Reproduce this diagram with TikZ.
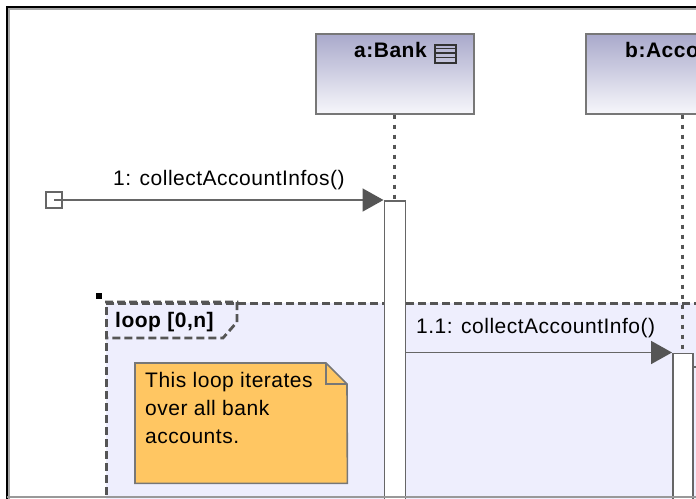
\documentclass[tikz,border=0pt]{standalone}
\usepackage{fontspec}
\setmainfont{Liberation Sans}[LetterSpace=2.4]
\usetikzlibrary{arrows.meta}
\definecolor{lavfill}{HTML}{EEEEFD}
\definecolor{notefill}{HTML}{FFC662}
\definecolor{boxgray}{HTML}{777777}
\definecolor{msggray}{HTML}{666666}
\definecolor{darkgray}{HTML}{555555}
\definecolor{boxtop}{HTML}{A9A9CB}
\definecolor{boxbot}{HTML}{F7F7FB}
\tikzset{
  lifebox/.style={draw=boxgray, line width=1.6pt, top color=boxtop, bottom color=boxbot,
    inner sep=0pt, anchor=north west},
  actbar/.style={draw=msggray, line width=1.6pt, fill=white, inner sep=0pt, anchor=north west},
  lifeline/.style={draw=darkgray, line width=3pt, dash pattern=on 4pt off 6pt},
  msg/.style={draw=msggray, line width=1.8pt,
    -{Triangle[length=21pt,width=23pt,fill=darkgray,color=darkgray]}},
  fragline/.style={draw=darkgray, line width=2.8pt, dash pattern=on 8pt off 4pt},
  lbl/.style={font=\fontsize{21}{25}\selectfont, inner sep=0pt, anchor=base west},
  blbl/.style={font=\fontsize{21}{25}\selectfont\bfseries, inner sep=0pt, anchor=base west},
}
\begin{document}
\begin{tikzpicture}[x=1pt,y=-1pt]
\useasboundingbox (0,0) rectangle (696,498);
\begin{scope}
\clip (0,0) rectangle (696,498);
\fill[white] (0,0) rectangle (696,498);

% loop fragment
\node[fragline, fill=lavfill, anchor=north west, inner sep=0pt,
      minimum width=640pt, minimum height=240pt] (loop) at (105,302) {};
\draw[fragline] (loop.north west) -- (237,302) -- (237,322) -- (223,338) -- (105,338);
\node[blbl] (looplbl) at (115,327) {loop [0,n]};
\fill[black] (96,293) rectangle (102,299);

% note
\node[inner sep=0pt, anchor=north west, minimum width=212pt, minimum height=120pt] (note) at (135,363) {};
\draw[draw=boxgray, line width=1.6pt, fill=notefill]
  (note.north west) -- (326,363) -- (347,384) -- (note.south east) -- (note.south west) -- cycle;
\draw[draw=boxgray, line width=1.6pt] (326,363) -- (326,384) -- (347,384);
\node[lbl] (n1) at (145,387) {This loop iterates};
\node[lbl] (n2) at (145,415) {over all bank};
\node[lbl] (n3) at (145,443) {accounts.};

% lifeline heads
\node[lifebox, minimum width=158pt, minimum height=80pt] (bank) at (315,33) {};
\node[blbl] (bankname) at (354,57) {a:Bank};
\node[draw=black!80, line width=1.6pt, inner sep=0pt, minimum width=21pt, minimum height=18pt,
      anchor=north west] (icon) at (434,44) {};
\draw[black!80, line width=1.4pt] (icon.west |- 0,48.5) -- (icon.east |- 0,48.5)
  (icon.west |- 0,53) -- (icon.east |- 0,53) (icon.west |- 0,57.5) -- (icon.east |- 0,57.5);
\node[lifebox, minimum width=194pt, minimum height=80pt] (acc) at (585,33) {};
\node[blbl] (accname) at (625,57) {b:Account};

% activation bars
\node[actbar, minimum width=21pt, minimum height=330pt] (actA) at (383.5,200) {};
\node[actbar, minimum width=20pt, minimum height=200pt] (actB) at (672,352.5) {};

% lifelines
\draw[lifeline] (bank.south) -- (bank.south |- actA.north);
\draw[lifeline] (acc.south) -- (actB.north);

% found message
\node[draw=msggray, line width=1.4pt, fill=white, inner sep=0pt, minimum size=16pt] (start) at (54,200) {};
\draw[msg] (start.center) -- (actA.north west);
\node[lbl] (m1) at (113,185) {1: collectAccountInfos()};

% message 1.1
\draw[msg] (actA.north east |- actB.north) -- (actB.north west);
\node[lbl] (m2) at (416,333) {1.1: collectAccountInfo()};

% stub
\coordinate (stubend) at (700,367);
\draw[draw=msggray, line width=1.6pt] (actB.east |- stubend) -- (stubend);

% outer frame
\draw[black, line width=2pt] (7,500) -- (7,7) -- (700,7);
\draw[black!35, line width=1.5pt] (9,500) -- (9,9) -- (700,9);
\draw[black!40, line width=1.5pt] (7,497) -- (700,497);
\end{scope}
\end{tikzpicture}
\end{document}
